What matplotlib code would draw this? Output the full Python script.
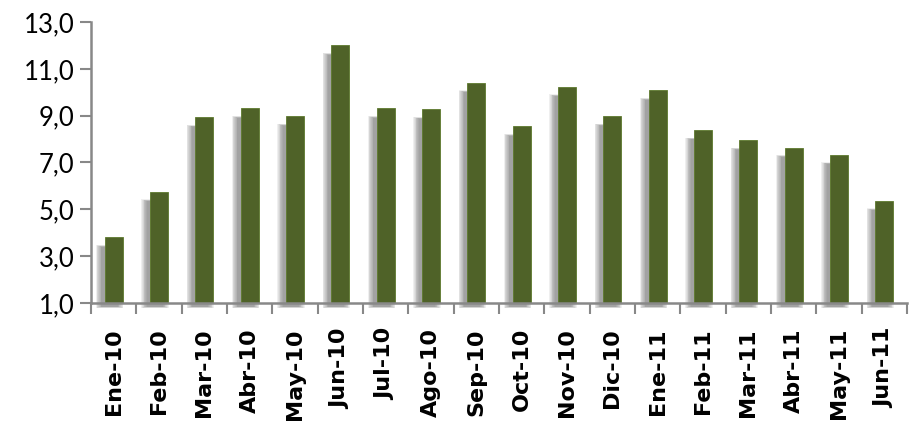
import matplotlib.pyplot as plt
import numpy as np
from matplotlib.ticker import FuncFormatter

meses = ['Ene-10', 'Feb-10', 'Mar-10', 'Abr-10', 'May-10', 'Jun-10', 'Jul-10',
         'Ago-10', 'Sep-10', 'Oct-10', 'Nov-10', 'Dic-10', 'Ene-11', 'Feb-11',
         'Mar-11', 'Abr-11', 'May-11', 'Jun-11']
valores = [3.8, 5.75, 8.93, 9.31, 8.98, 12.0, 9.31, 9.27, 10.41, 8.54,
           10.24, 8.98, 10.08, 8.39, 7.95, 7.64, 7.34, 5.37]
yticks = [1, 3, 5, 7, 9, 11, 13]

plt.rcParams['font.family'] = ['Lato', 'DejaVu Sans']

fig = plt.figure(figsize=(9.09, 4.23), dpi=100)
ax = fig.add_axes([91/909, 1 - 303/423, 1 - 91/909 - 2/909, (303 - 22)/423])

x = np.arange(len(meses))
base = yticks[0]
alturas = np.array(valores) - base

# sombra difusa: capas cada vez mas anchas y transparentes
for k in range(8):
    ax.bar(x - 0.09, alturas - 0.25 + k * 0.02, width=0.36 + k * 0.035,
           bottom=base - 0.15 - k * 0.01, color='#555555', alpha=0.09,
           linewidth=0, zorder=1, clip_on=False)

ax.bar(x, alturas, width=0.4, bottom=base, color='#4f6228',
       edgecolor='#5e7a2e', linewidth=0.6, zorder=3)

ax.set_xlim(-0.5, len(meses) - 0.5)
ax.set_ylim(1, 13)
ax.set_yticks(yticks)
ax.yaxis.set_major_formatter(FuncFormatter(lambda v, p: f'{v:.1f}'.replace('.', ',')))

ax.set_xticks(x)
ax.set_xticklabels(meses, rotation=90, fontsize=16, fontweight='bold',
                   family='DejaVu Sans')
ax.set_xticks(np.arange(len(meses) + 1) - 0.5, minor=True)
ax.tick_params(axis='x', which='major', length=0, pad=18)
ax.tick_params(axis='x', which='minor', length=8, width=1.5, color='#888888', direction='out')
ax.tick_params(axis='y', length=8, width=1.5, color='#888888', labelsize=18.5, pad=4)

for s in ['top', 'right']:
    ax.spines[s].set_visible(False)
for s in ['left', 'bottom']:
    ax.spines[s].set_color('#888888')
    ax.spines[s].set_linewidth(1.8)
    ax.spines[s].set_zorder(4)

fig.savefig('out.png', dpi=100)
